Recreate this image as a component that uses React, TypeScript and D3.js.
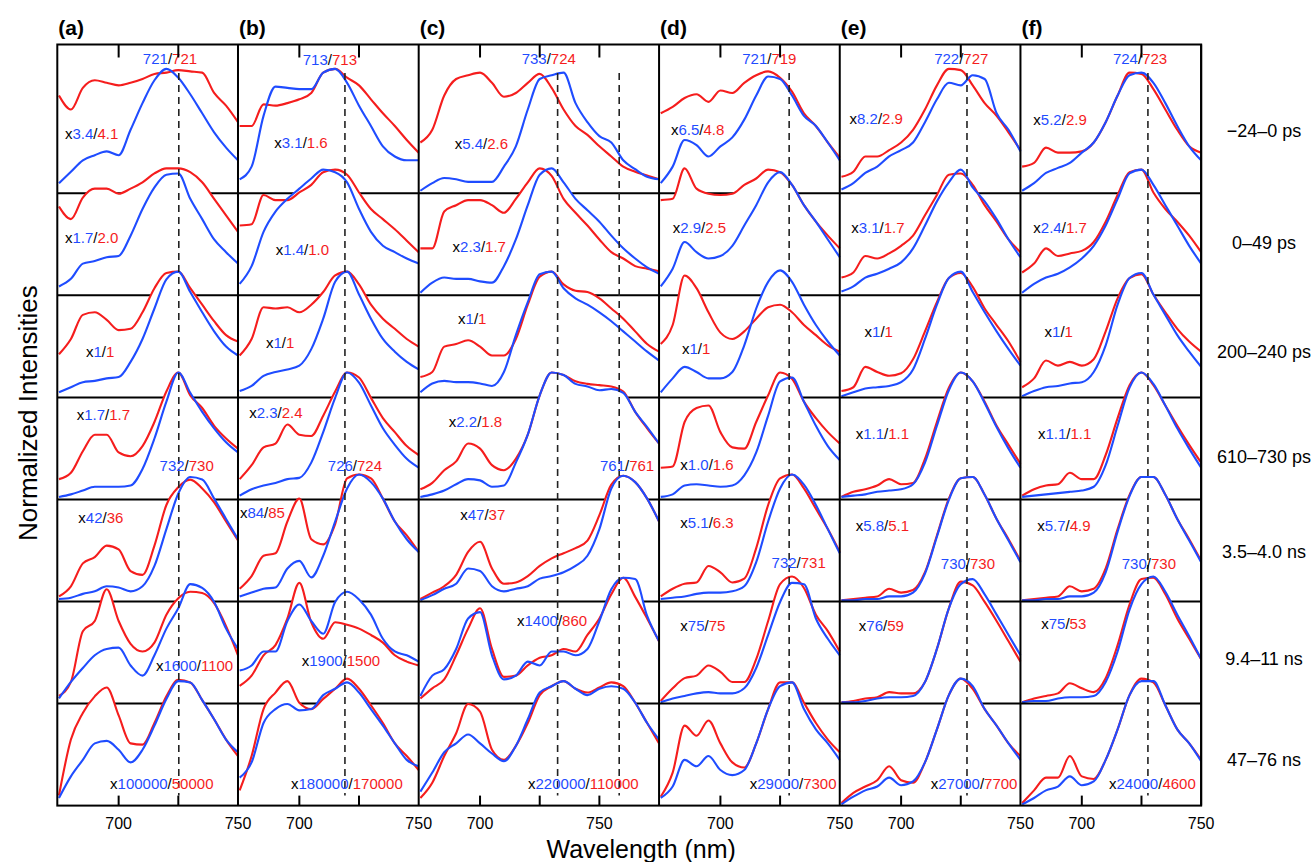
import React from 'react';
import * as d3 from 'd3';

// ---------- DATA ----------
const WAVE_STD = [675, 680, 685, 690, 695, 700, 705, 710, 715, 720, 725, 730, 735, 740, 745, 750];
const WAVE_C = [675, 680, 685, 690, 695, 700, 705, 710, 715, 720, 725, 730, 735, 740, 745, 750, 755, 760, 765, 770, 775];

const panelLabels = ['(a)', '(b)', '(c)', '(d)', '(e)', '(f)'];
const timeLabels = ['\u221224\u20130 ps', '0\u201349 ps', '200\u2013240 ps', '610\u2013730 ps', '3.5\u20134.0 ns', '9.4\u201311 ns', '47\u201376 ns'];
const tickValues = [700, 725, 750];
const tickLabelValues = [700, 750];

// normalized intensities, one row per time window
const aBlue = [
  [0.08, 0.17, 0.26, 0.30, 0.33, 0.30, 0.50, 0.71, 0.89, 0.98, 0.91, 0.78, 0.63, 0.48, 0.36, 0.26],
  [0.07, 0.13, 0.25, 0.27, 0.30, 0.31, 0.47, 0.68, 0.85, 0.95, 0.96, 0.76, 0.60, 0.44, 0.34, 0.25],
  [0.04, 0.08, 0.12, 0.13, 0.15, 0.16, 0.28, 0.46, 0.70, 0.93, 0.99, 0.83, 0.67, 0.52, 0.40, 0.33],
  [0.02, 0.04, 0.07, 0.10, 0.10, 0.10, 0.11, 0.24, 0.48, 0.77, 1.00, 0.84, 0.69, 0.56, 0.45, 0.37],
  [0.02, 0.03, 0.06, 0.08, 0.12, 0.11, 0.08, 0.12, 0.28, 0.57, 0.85, 0.98, 0.96, 0.81, 0.65, 0.49],
  [0.04, 0.17, 0.28, 0.38, 0.43, 0.44, 0.30, 0.22, 0.38, 0.59, 0.75, 0.94, 0.91, 0.80, 0.59, 0.43],
  [0.06, 0.23, 0.36, 0.49, 0.51, 0.44, 0.34, 0.44, 0.63, 0.84, 0.98, 0.97, 0.83, 0.68, 0.52, 0.42],
];
const aRed = [
  [0.77, 0.66, 0.83, 0.89, 0.87, 0.85, 0.87, 0.90, 0.94, 0.95, 0.97, 0.96, 0.95, 0.79, 0.69, 0.56],
  [0.70, 0.60, 0.77, 0.84, 0.84, 0.80, 0.84, 0.89, 0.96, 1.00, 1.00, 0.97, 0.89, 0.76, 0.63, 0.50],
  [0.34, 0.46, 0.65, 0.67, 0.61, 0.53, 0.54, 0.67, 0.86, 0.98, 0.99, 0.86, 0.73, 0.60, 0.49, 0.44],
  [0.16, 0.21, 0.38, 0.51, 0.51, 0.37, 0.34, 0.42, 0.61, 0.85, 1.00, 0.82, 0.72, 0.58, 0.48, 0.40],
  [0.04, 0.12, 0.30, 0.35, 0.44, 0.41, 0.24, 0.21, 0.44, 0.76, 0.90, 0.96, 0.89, 0.78, 0.63, 0.48],
  [0.06, 0.17, 0.57, 0.65, 0.90, 0.65, 0.47, 0.41, 0.48, 0.70, 0.83, 0.88, 0.87, 0.79, 0.61, 0.38],
  [0.08, 0.52, 0.73, 0.86, 0.93, 0.71, 0.49, 0.48, 0.65, 0.86, 0.99, 0.97, 0.83, 0.68, 0.52, 0.39],
];

const bBlue = [
  [0.11, 0.21, 0.61, 0.84, 0.83, 0.82, 0.82, 0.95, 0.98, 0.87, 0.69, 0.53, 0.37, 0.29, 0.26, 0.26],
  [0.09, 0.23, 0.50, 0.66, 0.76, 0.84, 0.92, 0.99, 0.97, 0.89, 0.68, 0.50, 0.39, 0.34, 0.29, 0.25],
  [0.05, 0.09, 0.17, 0.20, 0.22, 0.25, 0.38, 0.62, 0.91, 0.99, 0.81, 0.62, 0.46, 0.36, 0.28, 0.22],
  [0.03, 0.08, 0.11, 0.13, 0.16, 0.17, 0.29, 0.53, 0.80, 1.00, 0.92, 0.74, 0.56, 0.43, 0.32, 0.25],
  [0.04, 0.07, 0.10, 0.11, 0.26, 0.32, 0.19, 0.36, 0.63, 0.89, 1.00, 0.94, 0.81, 0.63, 0.49, 0.39],
  [0.26, 0.30, 0.41, 0.41, 0.65, 0.78, 0.65, 0.55, 0.80, 0.88, 0.82, 0.70, 0.51, 0.41, 0.38, 0.33],
  [0.22, 0.34, 0.65, 0.76, 0.80, 0.75, 0.76, 0.87, 0.92, 0.97, 0.89, 0.76, 0.63, 0.49, 0.36, 0.31],
];
const bRed = [
  [0.53, 0.53, 0.70, 0.69, 0.71, 0.74, 0.79, 0.95, 0.98, 0.91, 0.85, 0.74, 0.63, 0.53, 0.42, 0.32],
  [0.55, 0.56, 0.79, 0.75, 0.75, 0.81, 0.87, 0.97, 0.99, 0.95, 0.81, 0.68, 0.60, 0.52, 0.43, 0.34],
  [0.33, 0.46, 0.71, 0.70, 0.71, 0.67, 0.73, 0.83, 0.96, 0.99, 0.89, 0.73, 0.62, 0.54, 0.46, 0.40],
  [0.16, 0.27, 0.41, 0.44, 0.59, 0.51, 0.50, 0.66, 0.85, 1.00, 0.96, 0.80, 0.64, 0.53, 0.42, 0.35],
  [0.10, 0.20, 0.36, 0.38, 0.63, 0.81, 0.49, 0.45, 0.61, 0.97, 1.00, 0.97, 0.81, 0.63, 0.52, 0.39],
  [0.14, 0.22, 0.38, 0.46, 0.67, 0.95, 0.64, 0.51, 0.64, 0.62, 0.59, 0.54, 0.48, 0.38, 0.33, 0.30],
  [0.12, 0.39, 0.76, 0.89, 0.98, 0.81, 0.76, 0.84, 0.92, 1.00, 0.92, 0.79, 0.65, 0.49, 0.39, 0.28],
];

const cBlue = [
  [0.02, 0.08, 0.12, 0.11, 0.09, 0.09, 0.09, 0.21, 0.37, 0.66, 0.90, 0.93, 0.95, 0.71, 0.56, 0.45, 0.40, 0.26, 0.19, 0.13, 0.11],
  [0.02, 0.10, 0.14, 0.13, 0.13, 0.11, 0.10, 0.23, 0.44, 0.71, 0.95, 1.00, 0.89, 0.76, 0.67, 0.58, 0.47, 0.37, 0.29, 0.22, 0.17],
  [0.04, 0.11, 0.13, 0.12, 0.12, 0.11, 0.09, 0.20, 0.49, 0.75, 0.97, 0.99, 0.86, 0.78, 0.73, 0.67, 0.60, 0.52, 0.44, 0.36, 0.29],
  [0.02, 0.04, 0.07, 0.12, 0.16, 0.15, 0.10, 0.11, 0.29, 0.51, 0.82, 1.00, 0.98, 0.91, 0.89, 0.86, 0.87, 0.84, 0.69, 0.57, 0.44],
  [0.01, 0.05, 0.10, 0.14, 0.26, 0.24, 0.12, 0.08, 0.10, 0.12, 0.18, 0.20, 0.23, 0.28, 0.36, 0.57, 0.89, 0.99, 0.94, 0.81, 0.63],
  [0.06, 0.22, 0.27, 0.43, 0.67, 0.72, 0.38, 0.19, 0.22, 0.33, 0.30, 0.41, 0.41, 0.38, 0.43, 0.65, 0.90, 0.99, 0.98, 0.69, 0.49],
  [0.11, 0.26, 0.42, 0.49, 0.56, 0.49, 0.41, 0.35, 0.47, 0.68, 0.89, 0.94, 0.98, 0.92, 0.87, 0.92, 0.94, 0.92, 0.81, 0.65, 0.52],
];
const cRed = [
  [0.40, 0.50, 0.77, 0.90, 0.93, 0.95, 0.87, 0.76, 0.79, 0.87, 0.94, 0.83, 0.66, 0.53, 0.46, 0.37, 0.29, 0.21, 0.17, 0.14, 0.11],
  [0.37, 0.37, 0.66, 0.71, 0.75, 0.75, 0.71, 0.65, 0.76, 0.89, 1.00, 0.94, 0.76, 0.65, 0.55, 0.44, 0.34, 0.29, 0.23, 0.21, 0.19],
  [0.16, 0.20, 0.40, 0.42, 0.45, 0.40, 0.33, 0.33, 0.46, 0.73, 0.95, 0.99, 0.89, 0.84, 0.83, 0.78, 0.70, 0.62, 0.52, 0.42, 0.36],
  [0.08, 0.13, 0.23, 0.30, 0.44, 0.40, 0.27, 0.23, 0.32, 0.51, 0.82, 1.00, 0.98, 0.93, 0.91, 0.90, 0.89, 0.85, 0.69, 0.56, 0.44],
  [0.02, 0.07, 0.12, 0.21, 0.39, 0.47, 0.26, 0.14, 0.15, 0.20, 0.28, 0.34, 0.38, 0.42, 0.48, 0.68, 0.92, 0.99, 0.94, 0.81, 0.63],
  [0.04, 0.12, 0.19, 0.38, 0.59, 0.75, 0.43, 0.21, 0.22, 0.30, 0.36, 0.38, 0.43, 0.41, 0.54, 0.67, 0.86, 0.99, 0.84, 0.67, 0.49],
  [0.06, 0.18, 0.39, 0.57, 0.80, 0.74, 0.44, 0.36, 0.47, 0.65, 0.87, 0.94, 0.98, 0.92, 0.89, 0.93, 0.97, 0.94, 0.81, 0.65, 0.49],
];

const dBlue = [
  [0.08, 0.21, 0.42, 0.38, 0.29, 0.37, 0.44, 0.58, 0.77, 0.92, 0.90, 0.77, 0.61, 0.53, 0.40, 0.26],
  [0.07, 0.21, 0.42, 0.34, 0.29, 0.31, 0.39, 0.55, 0.71, 0.89, 0.97, 0.87, 0.71, 0.58, 0.44, 0.30],
  [0.04, 0.15, 0.24, 0.20, 0.15, 0.15, 0.20, 0.41, 0.70, 0.91, 1.00, 0.91, 0.73, 0.57, 0.44, 0.33],
  [0.02, 0.04, 0.11, 0.12, 0.11, 0.10, 0.11, 0.19, 0.37, 0.66, 0.93, 0.96, 0.77, 0.58, 0.42, 0.31],
  [0.02, 0.03, 0.04, 0.06, 0.07, 0.07, 0.08, 0.12, 0.31, 0.63, 0.89, 1.00, 0.92, 0.76, 0.57, 0.38],
  [0.01, 0.04, 0.06, 0.08, 0.09, 0.08, 0.08, 0.12, 0.28, 0.54, 0.80, 0.95, 0.94, 0.67, 0.51, 0.38],
  [0.06, 0.15, 0.36, 0.31, 0.39, 0.28, 0.24, 0.28, 0.49, 0.76, 0.94, 0.97, 0.76, 0.60, 0.49, 0.36],
];
const dRed = [
  [0.63, 0.68, 0.75, 0.78, 0.72, 0.81, 0.79, 0.87, 0.93, 0.96, 0.91, 0.80, 0.63, 0.53, 0.40, 0.28],
  [0.75, 0.76, 1.00, 0.84, 0.80, 0.79, 0.80, 0.87, 0.92, 0.99, 0.97, 0.87, 0.71, 0.58, 0.47, 0.37],
  [0.42, 0.57, 0.96, 0.86, 0.67, 0.51, 0.46, 0.52, 0.62, 0.71, 0.73, 0.67, 0.57, 0.49, 0.41, 0.36],
  [0.25, 0.26, 0.61, 0.72, 0.74, 0.53, 0.41, 0.40, 0.61, 0.82, 1.00, 0.95, 0.77, 0.64, 0.53, 0.44],
  [0.04, 0.10, 0.14, 0.15, 0.28, 0.23, 0.15, 0.18, 0.42, 0.76, 0.97, 1.00, 0.89, 0.73, 0.57, 0.39],
  [0.02, 0.12, 0.20, 0.22, 0.30, 0.25, 0.17, 0.17, 0.35, 0.65, 0.94, 1.00, 0.91, 0.70, 0.57, 0.41],
  [0.07, 0.26, 0.63, 0.55, 0.67, 0.49, 0.34, 0.30, 0.49, 0.76, 0.97, 0.97, 0.81, 0.65, 0.52, 0.42],
];

const eBlue = [
  [0.03, 0.08, 0.16, 0.21, 0.29, 0.34, 0.40, 0.56, 0.74, 0.87, 0.85, 0.93, 0.90, 0.63, 0.50, 0.33],
  [0.03, 0.07, 0.14, 0.17, 0.21, 0.26, 0.37, 0.55, 0.74, 0.89, 0.99, 0.85, 0.74, 0.60, 0.44, 0.30],
  [0.01, 0.04, 0.07, 0.08, 0.09, 0.12, 0.22, 0.46, 0.73, 0.94, 0.99, 0.83, 0.67, 0.52, 0.38, 0.25],
  [0.02, 0.03, 0.04, 0.06, 0.07, 0.08, 0.12, 0.29, 0.58, 0.86, 1.00, 0.93, 0.76, 0.57, 0.40, 0.25],
  [0.01, 0.01, 0.02, 0.02, 0.04, 0.04, 0.07, 0.22, 0.51, 0.80, 0.97, 0.98, 0.84, 0.65, 0.48, 0.31],
  [0.01, 0.01, 0.02, 0.04, 0.05, 0.05, 0.06, 0.17, 0.43, 0.75, 0.94, 0.98, 0.86, 0.70, 0.54, 0.38],
  [0.01, 0.07, 0.12, 0.15, 0.22, 0.16, 0.19, 0.34, 0.60, 0.87, 1.00, 0.94, 0.76, 0.63, 0.49, 0.36],
];
const eRed = [
  [0.13, 0.17, 0.29, 0.29, 0.34, 0.40, 0.50, 0.66, 0.85, 0.98, 0.97, 0.85, 0.71, 0.61, 0.48, 0.34],
  [0.14, 0.18, 0.31, 0.29, 0.33, 0.39, 0.47, 0.63, 0.79, 0.95, 0.96, 0.87, 0.71, 0.58, 0.44, 0.34],
  [0.05, 0.08, 0.24, 0.20, 0.17, 0.19, 0.30, 0.52, 0.75, 0.94, 0.98, 0.87, 0.70, 0.57, 0.44, 0.28],
  [0.02, 0.06, 0.08, 0.11, 0.16, 0.12, 0.13, 0.32, 0.61, 0.88, 1.00, 0.93, 0.77, 0.58, 0.43, 0.28],
  [0.01, 0.02, 0.03, 0.04, 0.10, 0.07, 0.09, 0.23, 0.52, 0.81, 0.97, 0.98, 0.84, 0.65, 0.49, 0.32],
  [0.01, 0.02, 0.04, 0.05, 0.09, 0.08, 0.08, 0.17, 0.43, 0.75, 0.96, 0.93, 0.80, 0.65, 0.49, 0.33],
  [0.02, 0.10, 0.15, 0.20, 0.31, 0.20, 0.18, 0.34, 0.60, 0.87, 1.00, 0.92, 0.76, 0.63, 0.49, 0.39],
];

const fBlue = [
  [0.02, 0.08, 0.16, 0.20, 0.24, 0.32, 0.40, 0.56, 0.77, 0.93, 0.95, 0.87, 0.71, 0.53, 0.37, 0.26],
  [0.02, 0.09, 0.14, 0.17, 0.22, 0.29, 0.39, 0.55, 0.76, 0.96, 0.99, 0.87, 0.71, 0.55, 0.39, 0.25],
  [0.01, 0.05, 0.08, 0.09, 0.11, 0.12, 0.20, 0.41, 0.73, 0.94, 0.98, 0.81, 0.65, 0.49, 0.36, 0.24],
  [0.02, 0.03, 0.04, 0.05, 0.06, 0.07, 0.10, 0.27, 0.58, 0.88, 1.00, 0.91, 0.74, 0.56, 0.40, 0.25],
  [0.01, 0.01, 0.02, 0.02, 0.04, 0.04, 0.07, 0.23, 0.55, 0.83, 0.98, 0.98, 0.84, 0.65, 0.48, 0.31],
  [0.01, 0.02, 0.02, 0.04, 0.05, 0.05, 0.06, 0.17, 0.41, 0.74, 0.94, 1.00, 0.88, 0.70, 0.53, 0.35],
  [0.01, 0.06, 0.12, 0.15, 0.23, 0.16, 0.19, 0.36, 0.60, 0.87, 0.98, 0.98, 0.79, 0.60, 0.49, 0.35],
];
const fRed = [
  [0.21, 0.24, 0.36, 0.32, 0.32, 0.33, 0.40, 0.56, 0.77, 0.95, 0.94, 0.82, 0.66, 0.50, 0.37, 0.32],
  [0.18, 0.25, 0.37, 0.31, 0.33, 0.35, 0.42, 0.58, 0.79, 0.97, 0.99, 0.81, 0.68, 0.58, 0.47, 0.34],
  [0.08, 0.15, 0.29, 0.25, 0.28, 0.25, 0.30, 0.52, 0.78, 0.94, 0.97, 0.81, 0.67, 0.54, 0.44, 0.36],
  [0.03, 0.08, 0.11, 0.12, 0.21, 0.16, 0.16, 0.35, 0.64, 0.90, 1.00, 0.90, 0.74, 0.58, 0.43, 0.29],
  [0.01, 0.02, 0.03, 0.04, 0.12, 0.08, 0.10, 0.26, 0.57, 0.84, 0.98, 0.98, 0.84, 0.65, 0.49, 0.32],
  [0.01, 0.04, 0.06, 0.08, 0.16, 0.12, 0.09, 0.20, 0.46, 0.78, 0.98, 0.99, 0.86, 0.67, 0.51, 0.35],
  [0.02, 0.12, 0.22, 0.22, 0.39, 0.23, 0.21, 0.36, 0.60, 0.87, 1.00, 0.97, 0.79, 0.60, 0.49, 0.36],
];

// scale factors (blue / red)
const aMult = [['3.4', '4.1'], ['1.7', '2.0'], ['1', '1'], ['1.7', '1.7'], ['42', '36'], ['1600', '1100'], ['100000', '50000']];
const bMult = [['3.1', '1.6'], ['1.4', '1.0'], ['1', '1'], ['2.3', '2.4'], ['84', '85'], ['1900', '1500'], ['180000', '170000']];
const cMult = [['5.4', '2.6'], ['2.3', '1.7'], ['1', '1'], ['2.2', '1.8'], ['47', '37'], ['1400', '860'], ['220000', '110000']];
const dMult = [['6.5', '4.8'], ['2.9', '2.5'], ['1', '1'], ['1.0', '1.6'], ['5.1', '6.3'], ['75', '75'], ['29000', '7300']];
const eMult = [['8.2', '2.9'], ['3.1', '1.7'], ['1', '1'], ['1.1', '1.1'], ['5.8', '5.1'], ['76', '59'], ['27000', '7700']];
const fMult = [['5.2', '2.9'], ['2.4', '1.7'], ['1', '1'], ['1.1', '1.1'], ['5.7', '4.9'], ['75', '53'], ['24000', '4600']];

// anchor of scale-factor labels in data units: [wavelength, normalized intensity]
const aMultAt = [[677.5, 0.47], [677.5, 0.45], [686.3, 0.36], [682.4, 0.67], [683.1, 0.66], [715.6, 0.30], [696.4, 0.17]];
const bMultAt = [[689.5, 0.40], [690.1, 0.36], [686.0, 0.43], [679.0, 0.68], [675.1, 0.70], [701.0, 0.34], [696.5, 0.17]];
const cMultAt = [[689.4, 0.39], [688.5, 0.38], [690.8, 0.62], [686.9, 0.61], [691.7, 0.68], [715.5, 0.65], [720.1, 0.17]];
const dMultAt = [[679.3, 0.50], [680.0, 0.53], [683.9, 0.38], [683.2, 0.27], [683.2, 0.62], [683.2, 0.61], [712.3, 0.17]];
const eMultAt = [[678.4, 0.59], [679.1, 0.53], [684.7, 0.52], [681.0, 0.52], [681.0, 0.60], [682.3, 0.61], [712.4, 0.17]];
const fMultAt = [[679.7, 0.58], [679.7, 0.53], [684.4, 0.52], [681.6, 0.52], [681.3, 0.60], [683.0, 0.63], [711.4, 0.17]];

// peak wavelengths (blue / red) : [row, blue, red, wavelength, level]
const aPeaks = [[0, '721', '721', 721.5, 1.06], [4, '732', '730', 728.5, 1.07]];
const bPeaks = [[0, '713', '713', 712.8, 1.05], [4, '726', '724', 723.3, 1.07]];
const cPeaks = [[0, '733', '724', 728.8, 1.06], [4, '761', '761', 761.6, 1.07]];
const dPeaks = [[0, '721', '719', 720.5, 1.06], [5, '732', '731', 732.8, 1.11]];
const ePeaks = [[0, '722', '727', 725.2, 1.06], [5, '730', '730', 728.0, 1.10]];
const fPeaks = [[0, '724', '723', 724.4, 1.06], [5, '730', '730', 728.1, 1.10]];

const aDashed = [725.2];
const bDashed = [719.1];
const cDashed = [732.5, 758.3];
const dDashed = [728.8];
const eDashed = [727.6];
const fDashed = [727.7];

const columns = [
  { label: panelLabels[0], waves: WAVE_STD, blue: aBlue, red: aRed, mult: aMult, multAt: aMultAt, peaks: aPeaks, dashed: aDashed },
  { label: panelLabels[1], waves: WAVE_STD, blue: bBlue, red: bRed, mult: bMult, multAt: bMultAt, peaks: bPeaks, dashed: bDashed },
  { label: panelLabels[2], waves: WAVE_C, blue: cBlue, red: cRed, mult: cMult, multAt: cMultAt, peaks: cPeaks, dashed: cDashed },
  { label: panelLabels[3], waves: WAVE_STD, blue: dBlue, red: dRed, mult: dMult, multAt: dMultAt, peaks: dPeaks, dashed: dDashed },
  { label: panelLabels[4], waves: WAVE_STD, blue: eBlue, red: eRed, mult: eMult, multAt: eMultAt, peaks: ePeaks, dashed: eDashed },
  { label: panelLabels[5], waves: WAVE_STD, blue: fBlue, red: fRed, mult: fMult, multAt: fMultAt, peaks: fPeaks, dashed: fDashed },
];

// ---------- LAYOUT ----------
const W = 1314;
const H = 862;
const LEFT = 57.3;
const TOP = 44.5;
const BASE0 = 193.3;
const ROW_STEP = 102.05;
const AMP = 127;
const PX_PER_NM = 2.387;
const WL_START = 674.3;
const RED = '#f51d1d';
const BLUE = '#1f4cff';
const FONT = '"Liberation Sans", Arial, Helvetica, sans-serif';
const LABEL_DY = [-63, -53, -46, -43, -50, -45, -46];

const nRows = 7;
const bottom = BASE0 + ROW_STEP * (nRows - 1);

function buildScales() {
  let x0 = LEFT;
  return columns.map((col) => {
    const end = col.waves[col.waves.length - 1];
    const x1 = x0 + (end - WL_START) * PX_PER_NM;
    const sc = d3.scaleLinear().domain([WL_START, end]).range([x0, x1]);
    x0 = x1;
    return sc;
  });
}

function Column({ col, x }: { col: any; x: d3.ScaleLinear<number, number> }) {
  const [xa, xb] = x.range();
  const rows = [];
  for (let i = 0; i < nRows; i++) {
    const base = BASE0 + ROW_STEP * i;
    const y = d3.scaleLinear().domain([0, 1]).range([base, base - AMP]);
    const area = d3
      .area<number[]>()
      .x((d) => x(d[0]))
      .y0(base)
      .y1((d) => y(d[1]))
      .curve(d3.curveMonotoneX);
    const line = d3
      .line<number[]>()
      .x((d) => x(d[0]))
      .y((d) => y(d[1]))
      .curve(d3.curveMonotoneX);
    const rp = col.waves.map((w: number, j: number) => [w, col.red[i][j]]);
    const bp = col.waves.map((w: number, j: number) => [w, col.blue[i][j]]);
    rows.push(
      <g key={i}>
        <path d={area(rp) || ''} fill="#fff" />
        <path d={area(bp) || ''} fill="#fff" />
        <path d={line(rp) || ''} fill="none" stroke={RED} strokeWidth={2.1} strokeLinejoin="round" />
        <path d={line(bp) || ''} fill="none" stroke={BLUE} strokeWidth={2.1} strokeLinejoin="round" />
        {i < nRows - 1 && <line x1={xa} x2={xb} y1={base} y2={base} stroke="#000" strokeWidth={2} />}
      </g>
    );
  }
  const yOf = (row: number, v: number) => BASE0 + ROW_STEP * row - v * AMP;
  const ticks = tickValues.filter((t) => t > WL_START && t < x.domain()[1]);
  return (
    <g>
      {rows}
      {col.dashed.map((w: number, k: number) => (
        <line key={'d' + k} x1={x(w)} x2={x(w)} y1={73} y2={bottom - 10} stroke="#222" strokeWidth={1.6} strokeDasharray="7,5" />
      ))}
      {col.mult.map((m: string[], i: number) => (
        <text key={'m' + i} x={x(col.multAt[i][0])} y={yOf(i, col.multAt[i][1])} dy="0.35em" fontSize={15} fontFamily={FONT}>
          <tspan fill="#000">x</tspan>
          <tspan fill={BLUE}>{m[0]}</tspan>
          <tspan fill="#000">/</tspan>
          <tspan fill={RED}>{m[1]}</tspan>
        </text>
      ))}
      {col.peaks.map((p: any[], k: number) => (
        <text key={'p' + k} x={x(p[3])} y={yOf(p[0], p[4])} dy="0.35em" fontSize={15} fontFamily={FONT} textAnchor="middle">
          <tspan fill={BLUE}>{p[1]}</tspan>
          <tspan fill="#000">/</tspan>
          <tspan fill={RED}>{p[2]}</tspan>
        </text>
      ))}
      {ticks.map((t) => (
        <g key={'t' + t}>
          <line x1={x(t)} x2={x(t)} y1={bottom} y2={bottom - 10} stroke="#000" strokeWidth={2} />
          <line x1={x(t)} x2={x(t)} y1={TOP} y2={TOP + 13} stroke="#000" strokeWidth={2} />
        </g>
      ))}
      {tickLabelValues.map((t) => (
        <text key={'tl' + t} x={x(t)} y={bottom + 23} fontSize={16} fontFamily={FONT} textAnchor="middle" fill="#000">
          {t}
        </text>
      ))}
      <text x={xa + 1} y={35} fontSize={21} fontWeight="bold" fontFamily={FONT} fill="#000">
        {col.label}
      </text>
      <line x1={xb} x2={xb} y1={TOP} y2={bottom} stroke="#000" strokeWidth={2} />
    </g>
  );
}

export default function App() {
  const scales = buildScales();
  const right = scales[scales.length - 1].range()[1];
  return (
    <svg width={W} height={H} style={{ position: 'absolute', left: 0, top: 0, background: '#fff' }}>
      <rect x={0} y={0} width={W} height={H} fill="#fff" />
      {columns.map((col, c) => (
        <Column key={c} col={col} x={scales[c]} />
      ))}
      <rect x={LEFT} y={TOP} width={right - LEFT} height={bottom - TOP} fill="none" stroke="#000" strokeWidth={2} />
      {timeLabels.map((t, i) => (
        <text key={t} x={1264} y={BASE0 + ROW_STEP * i + LABEL_DY[i]} dy="0.35em" fontSize={18} fontFamily={FONT} textAnchor="middle" fill="#000">
          {t}
        </text>
      ))}
      <text x={(LEFT + right) / 2 + 12} y={858} fontSize={25} fontFamily={FONT} textAnchor="middle" fill="#000">
        Wavelength (nm)
      </text>
      <text transform={`translate(28,${(TOP + bottom) / 2 - 12}) rotate(-90)`} dy="0.35em" fontSize={26} fontFamily={FONT} textAnchor="middle" fill="#000">
        Normalized Intensities
      </text>
    </svg>
  );
}
